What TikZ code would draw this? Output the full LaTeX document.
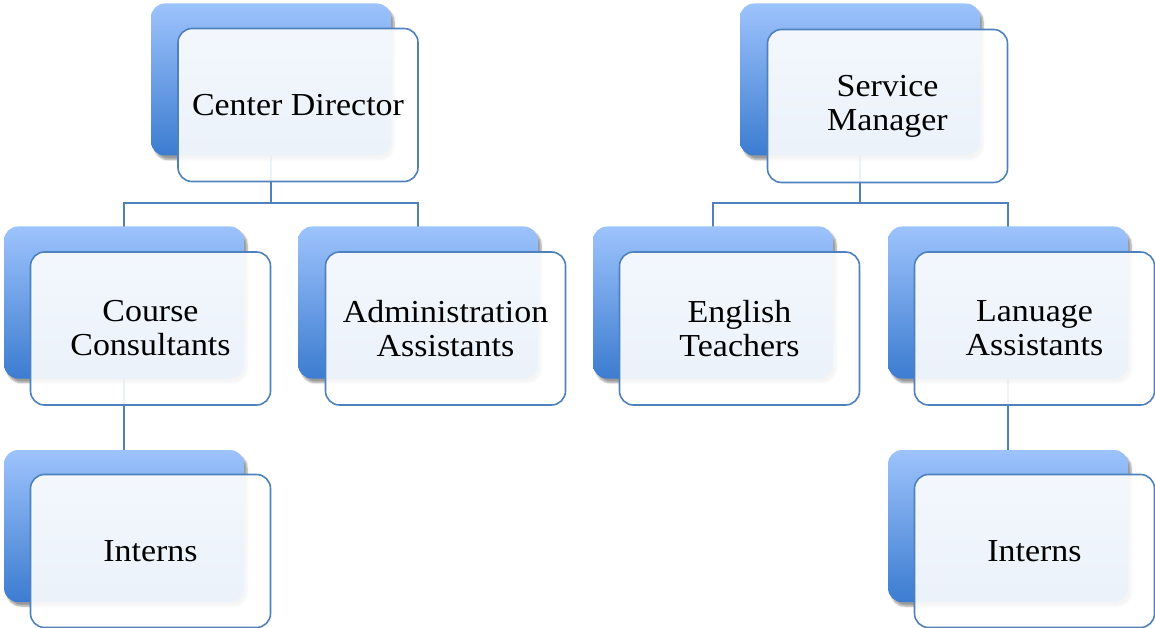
\documentclass[tikz,border=0pt]{standalone}
\usepackage{fontspec}
\setmainfont{Liberation Serif}[FakeStretch=1.06]
\usetikzlibrary{shadows.blur}
\definecolor{lineblue}{RGB}{79,129,189}
\definecolor{topblue}{RGB}{157,195,252}
\definecolor{botblue}{RGB}{60,124,208}
\tikzset{
 backbox/.style={rectangle, rounded corners=14pt, minimum width=240pt, minimum height=152pt, inner sep=0pt,
   top color=topblue, bottom color=botblue, draw=none,
   blur shadow={shadow xshift=3pt, shadow yshift=-4pt, shadow blur steps=6, shadow opacity=40}},
 frontbox/.style={rectangle, rounded corners=14pt, minimum width=240pt, minimum height=153pt, inner sep=0pt,
   draw=lineblue, line width=1.6pt, fill=white, fill opacity=0.9, text opacity=1, align=center,
   font=\fontsize{32}{34}\selectfont},
 conn/.style={draw=lineblue, line width=1.8pt}
}
\begin{document}
\begin{tikzpicture}[x=1pt,y=-1pt]
\useasboundingbox (0,0) rectangle (1155,628);
% junction coordinates
\coordinate (jl) at (271,203);
\coordinate (jr) at (860,203);
% back box centres
\path (271,79.5) coordinate (pb1) (860,79.5) coordinate (pb2)
      (124,302.5) coordinate (pb3) (418,302.5) coordinate (pb4)
      (713,302.5) coordinate (pb5) (1008,302.5) coordinate (pb6)
      (124,526) coordinate (pb7) (1008,526) coordinate (pb8);
% connectors
\draw[conn] (pb1) -- (jl);
\draw[conn] (pb3) |- (jl) -| (pb4);
\draw[conn] (pb3) -- (pb7);
\draw[conn] (pb2) -- (jr);
\draw[conn] (pb5) |- (jr) -| (pb6);
\draw[conn] (pb6) -- (pb8);
% back boxes
\node[backbox] (b1) at (pb1) {};
\node[backbox] (b2) at (pb2) {};
\node[backbox] (b3) at (pb3) {};
\node[backbox] (b4) at (pb4) {};
\node[backbox] (b5) at (pb5) {};
\node[backbox] (b6) at (pb6) {};
\node[backbox] (b7) at (pb7) {};
\node[backbox] (b8) at (pb8) {};
% front boxes
\node[frontbox] (f1) at (298,105) {Center Director};
\node[frontbox] (f2) at (887.5,106) {Service\\Manager};
\node[frontbox] (f3) at (150.5,328.5) {Course\\Consultants};
\node[frontbox] (f4) at (445.5,328.5) {Administration\\Assistants};
\node[frontbox] (f5) at (739.5,328.5) {English\\Teachers};
\node[frontbox] (f6) at (1034.5,328.5) {Lanuage\\Assistants};
\node[frontbox] (f7) at (150.5,551) {Interns};
\node[frontbox] (f8) at (1034.5,551) {Interns};
\end{tikzpicture}
\end{document}
